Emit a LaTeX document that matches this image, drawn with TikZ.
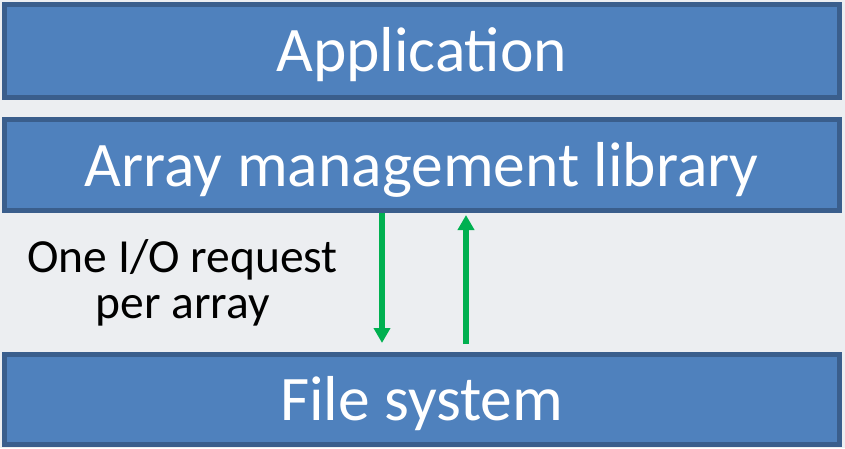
\documentclass[tikz,border=0pt]{standalone}
\usepackage{fontspec}
\setmainfont{Carlito}
\usetikzlibrary{arrows.meta}
\definecolor{layerfill}{HTML}{4F81BD}
\definecolor{layeredge}{HTML}{3A5E8C}
\definecolor{flowgreen}{HTML}{00B050}
\definecolor{paper}{HTML}{ECEEF1}
\tikzset{
  layer/.style={draw=layeredge, fill=layerfill, line width=5pt, inner sep=0pt,
    text=white, font=\fontsize{63.5}{63.5}\selectfont,
    text height=42pt, text depth=0pt,
    minimum width=835.5pt},
  flow/.style={draw=flowgreen, line width=6pt,
    -{Triangle[width=16pt,length=15pt]}},
  note/.style={align=center, font=\fontsize{47.5}{46}\selectfont, inner sep=0pt}
}
\begin{document}
\begin{tikzpicture}[x=1pt,y=1pt]
  % page background
  \fill[paper] (0,0) rectangle (845,448);
  \useasboundingbox (0,0) rectangle (845,448);

  % the three software layers
  \node[layer, minimum height=93.5pt] (app) at (421.75,397) {Application};
  \node[layer, minimum height=91pt]   (aml) at (421.75,283) {Array management library};
  \node[layer, minimum height=90pt]   (fs)  at (421.75,48.5) {File system};

  % request goes down, data comes back up
  \coordinate (dtop) at (382,235.5);
  \coordinate (dbot) at (382,105);
  \coordinate (ubot) at (466,104);
  \coordinate (utop) at (466,233);
  \draw[flow] (dtop) -- (dbot);
  \draw[flow] (ubot) -- (utop);

  % caption beside the arrows (base = baseline of the last line)
  \node[note, anchor=base] (req) at (182.5,130) {One I/O request\\per array};
\end{tikzpicture}
\end{document}
